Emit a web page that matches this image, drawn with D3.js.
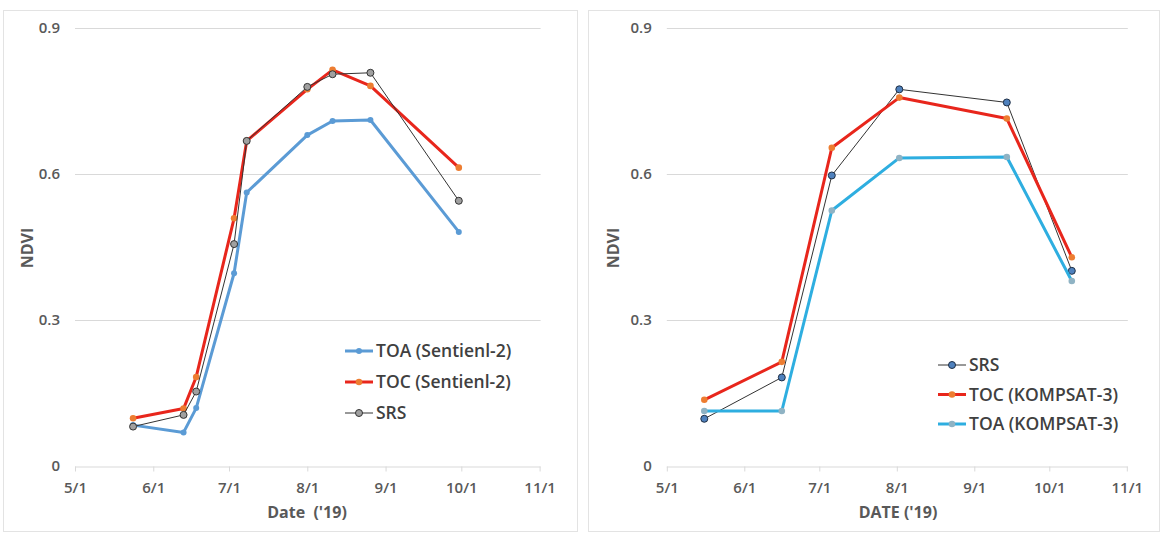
<!DOCTYPE html>
<html>
<head>
<meta charset="utf-8">
<script src="https://cdn.jsdelivr.net/npm/d3@7"></script>
<style>
  html, body { margin: 0; padding: 0; background: #ffffff; }
  svg text { font-family: "Open Sans", "Segoe UI", sans-serif; }
</style>
</head>
<body>
<svg id="chart" width="1164" height="536"></svg>
<script>
// ---- Data ----
const tickValuesY = [0, 0.3, 0.6, 0.9];
const tickLabelsY = ["0", "0.3", "0.6", "0.9"];

// Left panel: Sentinel-2
const leftDates = ["2019-05-24","2019-06-13","2019-06-18","2019-07-03","2019-07-08","2019-08-01","2019-08-11","2019-08-26","2019-09-30"];
const leftTOA = [0.084, 0.069, 0.119, 0.396, 0.562, 0.680, 0.709, 0.711, 0.481];
const leftTOC = [0.098, 0.118, 0.183, 0.509, 0.668, 0.774, 0.814, 0.781, 0.613];
const leftSRS = [0.081, 0.105, 0.153, 0.456, 0.668, 0.779, 0.805, 0.808, 0.545];

// Right panel: KOMPSAT-3
const rightDates = ["2019-05-16","2019-06-16","2019-07-06","2019-08-02","2019-09-14","2019-10-10"];
const rightSRS = [0.097, 0.182, 0.597, 0.774, 0.747, 0.401];
const rightTOC = [0.136, 0.214, 0.654, 0.757, 0.714, 0.429];
const rightTOA = [0.113, 0.113, 0.525, 0.633, 0.635, 0.380];

const xDomain = ["2019-05-01", "2019-11-01"];

const svg = d3.select("#chart");
const parse = d3.utcParse("%Y-%m-%d");
const fmt = d3.utcFormat("%-m/%-d");
const textColor = "#595959";

function panel(cfg) {
  const g = svg.append("g");
  // border
  g.append("rect")
    .attr("x", cfg.box[0]).attr("y", cfg.box[1])
    .attr("width", cfg.box[2]).attr("height", cfg.box[3])
    .attr("fill", "#fff").attr("stroke", "#e3e3e3").attr("stroke-width", 1);

  const x = d3.scaleUtc().domain(xDomain.map(parse)).range([cfg.x0, cfg.x1]);
  const y = d3.scaleLinear().domain([0, 0.9]).range([466, 28]);

  // gridlines
  g.append("g").selectAll("line").data(tickValuesY.filter(v => v > 0)).join("line")
    .attr("x1", cfg.x0).attr("x2", cfg.x1 + 1)
    .attr("y1", d => Math.round(y(d)) + 0.5).attr("y2", d => Math.round(y(d)) + 0.5)
    .attr("stroke", "#d9d9d9").attr("stroke-width", 1);

  // y tick labels
  g.append("g").selectAll("text").data(tickValuesY).join("text")
    .attr("x", cfg.x0 - 15).attr("y", d => y(d))
    .attr("dy", "0.35em").attr("text-anchor", "end")
    .attr("font-size", 15).attr("font-weight", 600).attr("fill", textColor)
    .text((d, i) => tickLabelsY[i]);

  // x axis
  const xAxis = d3.axisBottom(x).ticks(d3.utcMonth.every(1)).tickFormat(fmt).tickSize(5).tickSizeOuter(0);
  const ax = g.append("g").attr("transform", "translate(0,466.5)").call(xAxis);
  ax.select(".domain").attr("stroke", "#d9d9d9").attr("d", `M${cfg.x0},0.5H${cfg.x1 + 1}`);
  ax.selectAll(".tick line").attr("stroke", "#d9d9d9");
  ax.selectAll(".tick text").attr("font-size", 15).attr("font-weight", 600)
    .attr("fill", textColor).attr("y", 16).attr("font-family", "Open Sans, sans-serif");

  // axis titles
  g.append("text").attr("transform", `translate(${cfg.yTitleX},248) rotate(-90)`)
    .attr("text-anchor", "middle").attr("dy", "0.35em")
    .attr("font-size", 16).attr("font-weight", 700).attr("fill", textColor).text("NDVI");
  g.append("text").attr("x", cfg.xTitleX).attr("y", 512).attr("dy", "0.35em")
    .attr("text-anchor", "middle").attr("font-size", 16).attr("font-weight", 700)
    .attr("fill", textColor).style("white-space", "pre").attr("xml:space", "preserve").text(cfg.xTitle);

  const dates = cfg.dates.map(parse);
  const line = d3.line().x(d => x(d[0])).y(d => y(d[1]));

  cfg.series.forEach(s => {
    const pts = dates.map((d, i) => [d, s.values[i]]);
    g.append("path").datum(pts).attr("d", line)
      .attr("fill", "none").attr("stroke", s.color).attr("stroke-width", s.width)
      .attr("stroke-linejoin", "round");
    g.append("g").selectAll("circle").data(pts).join("circle")
      .attr("cx", d => x(d[0])).attr("cy", d => y(d[1])).attr("r", s.r)
      .attr("fill", s.marker).attr("stroke", s.mstroke || "none").attr("stroke-width", s.mstroke ? 1 : 0);
  });

  // legend
  cfg.legend.forEach((name, i) => {
    const s = cfg.series.find(t => t.name === name);
    const ly = cfg.legY[i];
    g.append("line").attr("x1", cfg.legX).attr("x2", cfg.legX + 28)
      .attr("y1", ly).attr("y2", ly).attr("stroke", s.color).attr("stroke-width", s.width);
    g.append("circle").attr("cx", cfg.legX + 14).attr("cy", ly).attr("r", s.r)
      .attr("fill", s.marker).attr("stroke", s.mstroke || "none").attr("stroke-width", s.mstroke ? 1 : 0);
    g.append("text").attr("x", cfg.legX + 31).attr("y", ly).attr("dy", "0.35em")
      .attr("font-size", 17.5).attr("font-weight", 600).attr("fill", "#404040").text(s.label);
  });
}

panel({
  box: [3.5, 10.5, 574, 521],
  x0: 75, x1: 539.6,
  yTitleX: 27, xTitleX: 307, xTitle: "Date  ('19)",
  dates: leftDates,
  series: [
    { name: "TOA", label: "TOA (Sentienl-2)", values: leftTOA, color: "#5b9bd5", width: 3, marker: "#5b9bd5", r: 3 },
    { name: "TOC", label: "TOC (Sentienl-2)", values: leftTOC, color: "#e8261c", width: 3, marker: "#ed7d31", r: 3.3 },
    { name: "SRS", label: "SRS", values: leftSRS, color: "#333333", width: 1, marker: "#a0a0a0", mstroke: "#333333", r: 3.5 }
  ],
  legend: ["TOA", "TOC", "SRS"],
  legX: 345, legY: [351, 382, 413]
});

panel({
  box: [588.5, 10.5, 571, 521],
  x0: 666.8, x1: 1126.8,
  yTitleX: 613, xTitleX: 898, xTitle: "DATE ('19)",
  dates: rightDates,
  series: [
    { name: "SRS", label: "SRS", values: rightSRS, color: "#333333", width: 1, marker: "#4f81bd", mstroke: "#1f2f45", r: 3.5 },
    { name: "TOC", label: "TOC (KOMPSAT-3)", values: rightTOC, color: "#e8261c", width: 3, marker: "#ed7d31", r: 3.3 },
    { name: "TOA", label: "TOA (KOMPSAT-3)", values: rightTOA, color: "#2eaee0", width: 3, marker: "#8fb3c4", r: 3.3 }
  ],
  legend: ["SRS", "TOC", "TOA"],
  legX: 938, legY: [365, 394.5, 424]
});
</script>
</body>
</html>
